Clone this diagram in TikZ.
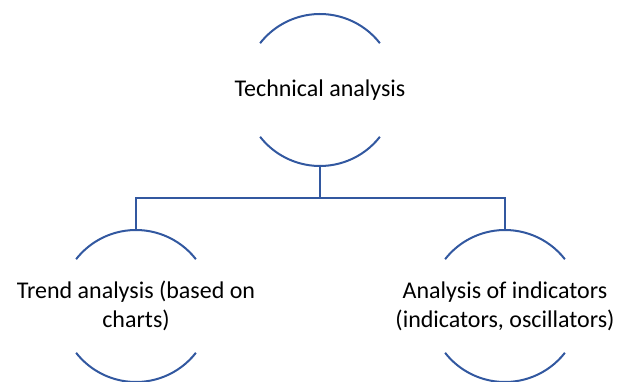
\documentclass[tikz,border=0pt]{standalone}
\usepackage{fontspec}
\setmainfont{Carlito}
\usetikzlibrary{positioning}
\definecolor{arcblue}{RGB}{50,88,160}
\tikzset{topic/.style={align=center,inner sep=0pt,font=\fontsize{24}{29}\selectfont}}
\tikzset{arcline/.style={draw=arcblue,line width=2pt}}
\tikzset{link/.style={draw=arcblue,line width=2pt}}

\begin{document}
\begin{tikzpicture}[x=1pt,y=-1pt]
	\useasboundingbox (0,0) rectangle (626,382);

	\node[topic] (tech) at (320,90) {Technical analysis};
	\node[topic,on grid,below left=216pt and 184pt of tech] (trend) {Trend analysis (based on\\charts)};
	\node[topic,on grid,below right=216pt and 185pt of tech] (ind) {Analysis of indicators\\(indicators, oscillators)};

	% open circles round the texts
	\foreach \n in {tech,trend,ind} {
		\draw[arcline] ([shift={(38:76pt)}]\n.center) arc[start angle=38,end angle=142,radius=76pt];
		\draw[arcline] ([shift={(-38:76pt)}]\n.center) arc[start angle=-38,end angle=-142,radius=76pt];
	}

	\draw[link] ([yshift=-75pt]tech.center) -- ++(0,33) -| ([yshift=76pt]trend.center);
	\draw[link] ([yshift=-75pt]tech.center) -- ++(0,33) -| ([yshift=76pt]ind.center);

\end{tikzpicture}
\end{document}
